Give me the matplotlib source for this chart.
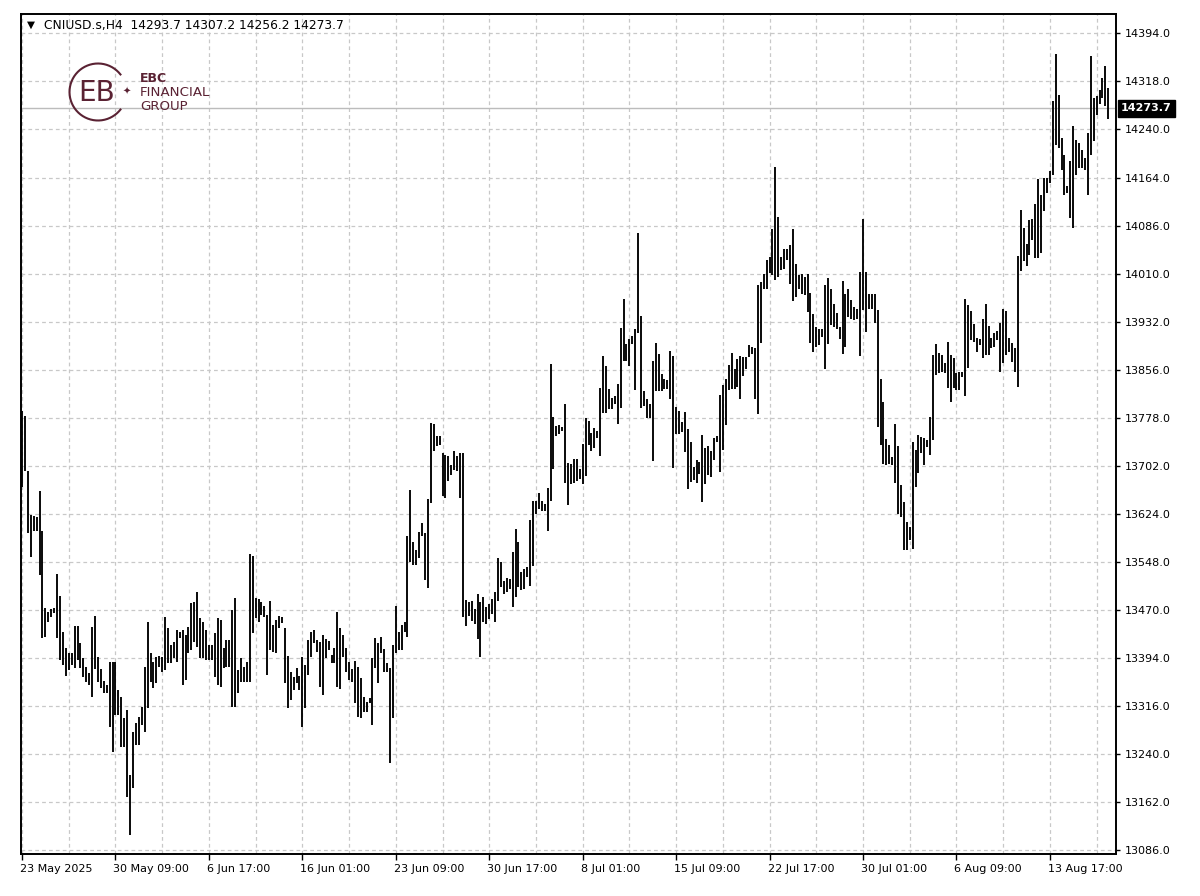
import matplotlib
matplotlib.use("Agg")
import matplotlib.pyplot as plt
import matplotlib.transforms as mtransforms
import numpy as np

# ---------------- data ----------------
symbol_title = "CNIUSD.s,H4  14293.7 14307.2 14256.2 14273.7"
last_price = 14273.7

highs = [
    13789, 13782, 13693, 13623, 13621, 13620, 13661, 13598, 13474, 13468,
    13472, 13474, 13528, 13493, 13436, 13410, 13402, 13402, 13446, 13446,
    13418, 13394, 13380, 13370, 13443, 13462, 13396, 13376, 13358, 13351,
    13388, 13388, 13388, 13343, 13332, 13298, 13311, 13207, 13276, 13290,
    13300, 13316, 13380, 13452, 13402, 13388, 13396, 13398, 13396, 13460,
    13442, 13415, 13419, 13439, 13436, 13439, 13431, 13444, 13482, 13484,
    13500, 13458, 13452, 13439, 13415, 13415, 13434, 13458, 13455, 13410,
    13423, 13423, 13471, 13490, 13375, 13394, 13380, 13388, 13561, 13557,
    13490, 13488, 13484, 13477, 13463, 13486, 13447, 13455, 13462, 13460,
    13442, 13398, 13372, 13364, 13378, 13366, 13396, 13383, 13423, 13436,
    13439, 13423, 13420, 13431, 13424, 13422, 13399, 13410, 13467, 13442,
    13431, 13410, 13388, 13376, 13390, 13380, 13362, 13331, 13324, 13330,
    13394, 13426, 13418, 13427, 13408, 13386, 13378, 13415, 13477, 13436,
    13447, 13451, 13589, 13663, 13579, 13567, 13595, 13610, 13594, 13648,
    13770, 13769, 13749, 13749, 13722, 13719, 13717, 13703, 13725, 13717,
    13722, 13722, 13487, 13483, 13485, 13473, 13497, 13483, 13491, 13475,
    13480, 13488, 13499, 13554, 13547, 13518, 13522, 13520, 13563, 13600,
    13579, 13531, 13537, 13539, 13615, 13646, 13646, 13659, 13646, 13641,
    13667, 13865, 13780, 13766, 13767, 13764, 13800, 13706, 13704, 13713,
    13713, 13697, 13737, 13779, 13774, 13755, 13762, 13757, 13827, 13878,
    13862, 13825, 13811, 13814, 13832, 13923, 13969, 13897, 13905, 13910,
    13921, 14074, 13942, 13822, 13809, 13801, 13869, 13899, 13881, 13848,
    13841, 13839, 13885, 13878, 13796, 13790, 13772, 13788, 13760, 13740,
    13700, 13711, 13708, 13751, 13731, 13733, 13726, 13747, 13749, 13815,
    13831, 13841, 13863, 13882, 13856, 13873, 13877, 13876, 13876, 13895,
    13892, 13891, 13991, 13996, 14009, 14031, 14036, 14081, 14180, 14100,
    14036, 14048, 14048, 14055, 14081, 14025, 14007, 14008, 14004, 14009,
    13978, 13944, 13924, 13921, 13921, 13991, 14003, 13984, 13961, 13946,
    13924, 13998, 13977, 13985, 13967, 13956, 13953, 14012, 14097, 14012,
    13977, 13976, 13977, 13951, 13841, 13804, 13745, 13735, 13716, 13769,
    13733, 13671, 13644, 13612, 13604, 13740, 13727, 13751, 13748, 13746,
    13743, 13780, 13879, 13897, 13882, 13879, 13866, 13900, 13879, 13874,
    13850, 13852, 13852, 13968, 13959, 13950, 13929, 13906, 13904, 13936,
    13961, 13926, 13906, 13914, 13918, 13930, 13952, 13950, 13907, 13899,
    13890, 14037, 14111, 14082, 14057, 14095, 14096, 14121, 14160, 14135,
    14162, 14162, 14173, 14285, 14361, 14296, 14226, 14200, 14149, 14189,
    14246, 14224, 14218, 14207, 14194, 14234, 14358, 14290, 14294, 14303,
    14322, 14342, 14307.2,
]

lows = [
    13668, 13693, 13594, 13556, 13597, 13597, 13527, 13426, 13427, 13452,
    13460, 13466, 13426, 13391, 13383, 13366, 13375, 13383, 13378, 13391,
    13378, 13364, 13356, 13351, 13331, 13376, 13356, 13346, 13338, 13338,
    13284, 13244, 13303, 13303, 13252, 13252, 13172, 13111, 13186, 13255,
    13255, 13287, 13276, 13314, 13356, 13346, 13354, 13380, 13372, 13375,
    13386, 13386, 13394, 13388, 13426, 13351, 13359, 13402, 13407, 13420,
    13412, 13394, 13394, 13391, 13391, 13391, 13364, 13351, 13348, 13378,
    13380, 13380, 13316, 13316, 13338, 13356, 13356, 13356, 13356, 13434,
    13458, 13451, 13463, 13460, 13367, 13407, 13404, 13402, 13442, 13450,
    13354, 13314, 13327, 13343, 13354, 13343, 13284, 13314, 13367, 13396,
    13418, 13404, 13348, 13335, 13394, 13407, 13386, 13386, 13348, 13344,
    13396, 13372, 13359, 13356, 13322, 13300, 13298, 13308, 13308, 13322,
    13287, 13378, 13354, 13402, 13372, 13372, 13226, 13298, 13402, 13407,
    13407, 13436, 13428, 13548, 13543, 13543, 13554, 13589, 13519, 13506,
    13642, 13725, 13733, 13735, 13653, 13650, 13677, 13687, 13695, 13693,
    13650, 13459, 13446, 13462, 13454, 13449, 13424, 13395, 13451, 13449,
    13457, 13465, 13451, 13486, 13507, 13497, 13499, 13505, 13475, 13491,
    13507, 13503, 13505, 13523, 13510, 13542, 13625, 13633, 13630, 13630,
    13598, 13646, 13697, 13750, 13753, 13758, 13675, 13639, 13673, 13675,
    13678, 13681, 13673, 13686, 13735, 13726, 13731, 13747, 13718, 13787,
    13786, 13793, 13793, 13801, 13768, 13795, 13870, 13870, 13862, 13897,
    13823, 13914, 13795, 13798, 13779, 13778, 13710, 13822, 13822, 13822,
    13825, 13825, 13809, 13698, 13753, 13753, 13756, 13724, 13665, 13676,
    13679, 13674, 13689, 13644, 13673, 13687, 13684, 13711, 13740, 13692,
    13727, 13767, 13823, 13824, 13824, 13828, 13809, 13845, 13856, 13876,
    13881, 13808, 13784, 13898, 13984, 13985, 14010, 14007, 13999, 14004,
    14015, 14017, 14031, 13992, 13966, 13972, 13985, 13977, 13975, 13948,
    13898, 13884, 13892, 13895, 13908, 13856, 13896, 13927, 13924, 13921,
    13905, 13880, 13892, 13940, 13937, 13935, 13936, 13877, 13951, 13916,
    13953, 13953, 13930, 13764, 13735, 13704, 13703, 13704, 13703, 13674,
    13624, 13620, 13567, 13567, 13583, 13569, 13668, 13690, 13722, 13703,
    13732, 13719, 13743, 13847, 13850, 13852, 13850, 13826, 13804, 13826,
    13823, 13823, 13844, 13813, 13858, 13903, 13900, 13884, 13895, 13874,
    13879, 13879, 13890, 13892, 13903, 13852, 13866, 13879, 13884, 13868,
    13852, 13828, 14013, 14029, 14022, 14039, 14063, 14034, 14035, 14042,
    14109, 14138, 14154, 14167, 14215, 14210, 14175, 14135, 14139, 14098,
    14082, 14167, 14178, 14178, 14175, 14135, 14200, 14221, 14264, 14281,
    14290, 14277, 14256.2,
]

x_tick_labels = ["23 May 2025", "30 May 09:00", "6 Jun 17:00", "16 Jun 01:00",
                 "23 Jun 09:00", "30 Jun 17:00", "8 Jul 01:00", "15 Jul 09:00",
                 "22 Jul 17:00", "30 Jul 01:00", "6 Aug 09:00", "13 Aug 17:00"]
bars_per_label = 32

y_tick_labels = ["13086.0", "13162.0", "13240.0", "13316.0", "13394.0", "13470.0",
                 "13548.0", "13624.0", "13702.0", "13778.0", "13856.0", "13932.0",
                 "14010.0", "14086.0", "14164.0", "14240.0", "14318.0", "14394.0"]
y_low_tick, y_high_tick = 13086.0, 14394.0

# ---------------- figure ----------------
W, H = 1200, 896
fig = plt.figure(figsize=(W / 100, H / 100), dpi=100)
fig.patch.set_facecolor("white")

L, R, T, B = 21, 1116, 14, 854
ax = fig.add_axes([L / W, 1 - B / H, (R - L) / W, (B - T) / H])
ax.set_facecolor("white")

idx = np.arange(len(highs))
ax.vlines(idx, lows, highs, color="black", linewidth=1.35, zorder=3)

# scales
ax.set_xlim(-0.35, 374.65)
yticks = np.linspace(y_low_tick, y_high_tick, len(y_tick_labels))
step = yticks[1] - yticks[0]
px_per_unit = 48.07 / step
ax.set_ylim(y_low_tick - 3.5 / px_per_unit, y_high_tick + 19.3 / px_per_unit)

# y axis on right
ax.yaxis.tick_right()
ax.set_yticks(yticks)
ax.set_yticklabels(y_tick_labels)
ax.tick_params(axis="y", direction="out", length=3, width=1, pad=3.5,
               labelsize=8, colors="black")

# x axis
xt = np.arange(len(x_tick_labels)) * bars_per_label
ax.set_xticks(xt)
ax.set_xticklabels(x_tick_labels)
for lbl in ax.get_xticklabels():
    lbl.set_horizontalalignment("left")
ax.set_xticks(np.arange(bars_per_label // 2, 375, bars_per_label), minor=True)
ax.tick_params(axis="x", which="major", direction="out", length=4, width=1,
               pad=3, labelsize=8, colors="black")
ax.tick_params(axis="x", which="minor", length=0)
offset = mtransforms.ScaledTranslation(-2 / 100, 0, fig.dpi_scale_trans)
for lbl in ax.get_xticklabels():
    lbl.set_transform(lbl.get_transform() + offset)

# grid
ax.grid(True, which="both", axis="x", color="#c8c8c8", linestyle=(0, (3, 2.5)), linewidth=0.9, zorder=0)
ax.grid(True, which="major", axis="y", color="#c8c8c8", linestyle=(0, (3, 2.5)), linewidth=0.9, zorder=0)
ax.set_axisbelow(True)

for sp in ax.spines.values():
    sp.set_color("black")
    sp.set_linewidth(1.4)

# current price line & label
ax.axhline(last_price, color="#bcbcbc", linewidth=1.0, zorder=2)
trans = mtransforms.blended_transform_factory(ax.transAxes, ax.transData)
ax.text(1.0 + 5 / (R - L), last_price, f"{last_price:.1f}", transform=trans,
        ha="left", va="center", fontsize=8, color="white", fontweight="bold",
        bbox=dict(facecolor="black", edgecolor="black", boxstyle="square,pad=0.28"),
        zorder=5, clip_on=False)

# ---------------- overlay (title + logo) ----------------
ov = fig.add_axes([0, 0, 1, 1], facecolor="none")
ov.set_xlim(0, W)
ov.set_ylim(H, 0)
ov.axis("off")

ov.text(27, 25, "\u25BC", fontsize=7.5, color="black", ha="left", va="center")
ov.text(44, 25, symbol_title, fontsize=8.8, color="black", ha="left", va="center")

maroon = "#5a2233"
th = np.linspace(np.deg2rad(38), np.deg2rad(322), 200)
cx, cy, r = 98, 92, 28.5
ov.plot(cx + r * np.cos(th), cy - r * np.sin(th), color=maroon, linewidth=1.5)
ov.text(cx - 1, cy + 1, "EB", fontsize=20, color=maroon, ha="center", va="center",
        fontweight="normal", family="DejaVu Sans")
ov.text(127, 92, "\u2726", fontsize=7, color=maroon, ha="center", va="center")
ov.text(140, 79, "EBC", fontsize=9, color=maroon, ha="left", va="center", fontweight="bold")
ov.text(140, 93, "FINANCIAL", fontsize=9.6, color=maroon, ha="left", va="center")
ov.text(140, 106, "GROUP", fontsize=9.6, color=maroon, ha="left", va="center")

fig.savefig("out.png", dpi=100, facecolor="white")
